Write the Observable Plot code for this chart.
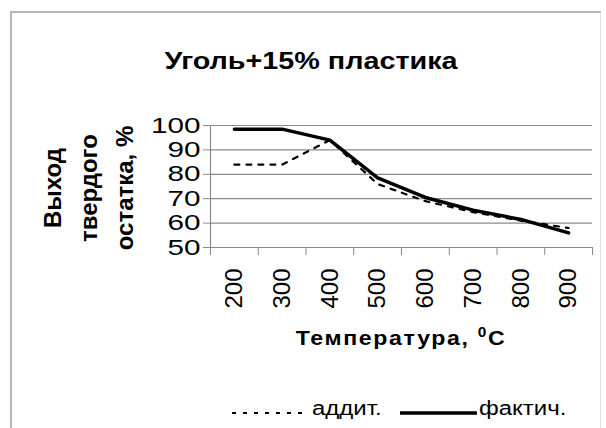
<!DOCTYPE html>
<html><head><meta charset="utf-8">
<script src="https://cdn.jsdelivr.net/npm/d3@7"></script>
<script src="https://cdn.jsdelivr.net/npm/@observablehq/plot@0.6"></script>
<style>
body{margin:0;background:#fff;font-family:"Liberation Sans",Arial,sans-serif;}
#wrap{position:relative;width:606px;height:428px;overflow:hidden;background:#fff}
.abs{position:absolute;white-space:nowrap;color:#000}
</style></head><body>
<div id="wrap">
  <div class="abs" style="left:10px;top:11px;width:588px;height:430px;border-left:2px solid #b4b4b4;border-top:2px solid #b4b4b4;border-right:1px solid #e2e2e2;"></div>
  <div id="chart" class="abs" style="left:0;top:0"></div>
  <div class="abs" style="left:0;width:622px;text-align:center;top:50px;font-weight:bold;font-size:23px;line-height:23px;transform:scaleX(1.25);transform-origin:311px 50%;">Уголь+15% пластика</div>
  <div class="abs" style="left:0;width:802px;text-align:center;top:327px;font-weight:bold;font-size:21px;line-height:21px;letter-spacing:1.5px;transform:scaleX(1.1);transform-origin:401px 50%;">Температура, <span style="font-size:14px;position:relative;top:-8px;">0</span>C</div>
  <div class="abs" style="left:-11px;top:134px;width:200px;height:108px;text-align:center;font-weight:bold;font-size:24px;line-height:36px;transform:rotate(-90deg);transform-origin:50% 50%;">Выход<br>твердого<br>остатка, %</div>
  <svg class="abs" style="left:0;top:0" width="606" height="428">
    <line x1="232" x2="308" y1="413" y2="413" stroke="#000" stroke-width="2.2" stroke-dasharray="4,7"></line>
    <line x1="400" x2="477" y1="413" y2="413" stroke="#000" stroke-width="3.5"></line>
  </svg>
  <div class="abs" style="left:312px;top:398px;font-size:20px;line-height:20px;transform:scaleX(1.2);transform-origin:0 50%;">аддит.</div>
  <div class="abs" style="left:479px;top:398px;font-size:20px;line-height:20px;transform:scaleX(1.2);transform-origin:0 50%;">фактич.</div>
</div>
<script>
const temps = [200, 300, 400, 500, 600, 700, 800, 900];
const additive = [84, 84, 94, 76, 69, 64.5, 61, 58];
const actual = [98.5, 98.5, 94, 78.5, 70.5, 65.3, 61.5, 56];
const yTicks = [50, 60, 70, 80, 90, 100];

const rows = temps.map((t, i) => ({pos: i + 0.5, t, additive: additive[i], actual: actual[i]}));
const W = 606, H = 360;
const grey = "#8a8a8a";
const chart = Plot.plot({
  width: W, height: H,
  marginLeft: 210, marginRight: 14, marginTop: 125, marginBottom: H - 247,
  style: {fontFamily: '"Liberation Sans", Arial, sans-serif', background: "transparent", color: "#000", overflow: "visible"},
  x: {type: "linear", domain: [0, temps.length]},
  y: {domain: [50, 100]},
  marks: [
    Plot.gridY(yTicks, {stroke: grey, strokeOpacity: 1, strokeWidth: 1.2}),
    Plot.axisY(yTicks, {tickSize: 7, tickPadding: 3, fontSize: 22, stroke: grey, fill: "#000", label: null}),
    Plot.ruleX([0], {y1: 50, y2: 100, stroke: grey, strokeWidth: 1.2}),
    Plot.axisX(d3.range(0, temps.length + 1), {tickSize: 8, tickFormat: () => "", stroke: grey, label: null}),
    Plot.axisX(rows.map(d => d.pos), {tickSize: 0, tickPadding: 21, tickRotate: -90, textAnchor: "end", lineAnchor: "middle",
      tickFormat: v => String(temps[Math.floor(v)]), fontSize: 24, fill: "#000", label: null}),
    Plot.line(rows, {x: "pos", y: "additive", stroke: "#000", strokeWidth: 2.2, strokeDasharray: "5,7"}),
    Plot.line(rows, {x: "pos", y: "actual", stroke: "#000", strokeWidth: 3.5})
  ]
});
document.getElementById("chart").appendChild(chart);
d3.select(chart).selectAll('g[aria-label="y-axis tick label"] text').each(function() {
  const t = this.getAttribute("transform") || "";
  this.setAttribute("transform", t + " scale(1.35,1)");
});
</script>
</body></html>
